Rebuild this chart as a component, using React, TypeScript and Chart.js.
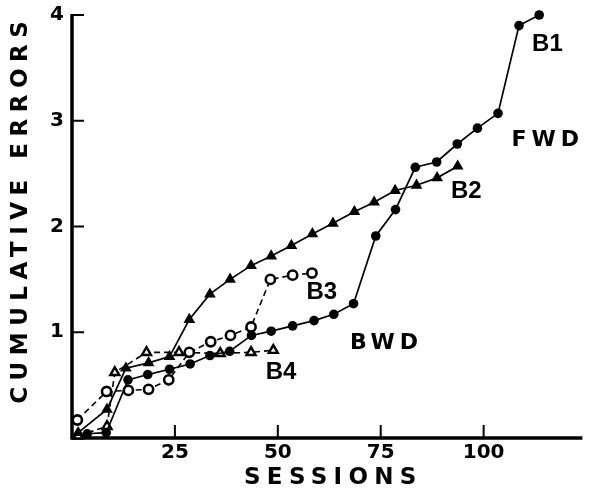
import React, { useEffect, useRef } from 'react';
import { Chart, registerables } from 'chart.js';

Chart.register(...registerables);

// ---- data ----
const b1Sessions = [3.7, 8.3, 13.6, 18.4, 23.7, 28.7, 33.5, 38.3, 43.6, 48.4, 53.6, 58.8, 63.6, 68.4, 73.8, 78.6, 83.4, 88.6, 93.6, 98.5, 103.5, 108.6, 113.5];
const b1Errors = [0.04, 0.05, 0.55, 0.6, 0.65, 0.7, 0.78, 0.82, 0.97, 1.01, 1.06, 1.11, 1.17, 1.27, 1.91, 2.16, 2.56, 2.61, 2.78, 2.93, 3.07, 3.9, 4.0];

const b2Sessions = [1.5, 8.5, 13.1, 18.6, 23.7, 28.5, 33.5, 38.4, 43.5, 48.4, 53.3, 58.4, 63.4, 68.6, 73.4, 78.5, 83.7, 88.7, 93.7];
const b2Errors = [0.05, 0.27, 0.66, 0.71, 0.77, 1.12, 1.36, 1.5, 1.63, 1.72, 1.82, 1.93, 2.03, 2.14, 2.23, 2.34, 2.39, 2.46, 2.57];

const b3Sessions = [1.3, 8.4, 13.7, 18.6, 23.5, 28.5, 33.7, 38.5, 43.5, 48.2, 53.6, 58.3];
const b3Errors = [0.17, 0.44, 0.45, 0.46, 0.55, 0.81, 0.91, 0.97, 1.05, 1.5, 1.54, 1.56];

const b4Sessions = [1.5, 8.5, 10.4, 18.1, 26.0, 36.0, 43.5, 48.9];
const b4Errors = [0.02, 0.11, 0.62, 0.81, 0.81, 0.8, 0.81, 0.83];

const xTicks = [25, 50, 75, 100];
const yTicks = [1, 2, 3, 4];
const xTitle = 'SESSIONS';
const yTitle = 'CUMULATIVE ERRORS';

// series labels: [text, session, errors]
const seriesLabels: [string, number, number][] = [
  ['B1', 115.5, 3.72],
  ['FWD', 115, 2.82],
  ['B2', 95.8, 2.33],
  ['B3', 60.7, 1.38],
  ['BWD', 75.8, 0.9],
  ['B4', 50.8, 0.62],
];

const X_MIN = 0;
const X_MAX = 124;
const Y_MIN = 0;
const Y_MAX = 4;

const HEAVY = '"DejaVu Sans", "Liberation Sans", sans-serif';
const LABEL = '"Liberation Sans", Arial, sans-serif';

function pts(xs: number[], ys: number[]) {
  return xs.map((x, i) => ({ x, y: ys[i] }));
}

function spacedText(ctx: CanvasRenderingContext2D, text: string, x: number, y: number, ls: number) {
  (ctx as any).letterSpacing = ls + 'px';
  ctx.textAlign = 'center';
  ctx.fillText(text, x + ls / 2, y);
  (ctx as any).letterSpacing = '0px';
}

const decorPlugin = {
  id: 'decor',
  beforeDatasetsDraw(chart: any) {
    const { ctx, scales } = chart;
    const xs = scales.x;
    const ys = scales.y;
    const x0 = xs.getPixelForValue(X_MIN);
    const y0 = ys.getPixelForValue(Y_MIN);
    const xEnd = xs.getPixelForValue(X_MAX);
    const yTop = ys.getPixelForValue(Y_MAX);
    ctx.save();
    ctx.strokeStyle = '#000';
    ctx.lineWidth = 3.5;
    ctx.beginPath();
    ctx.moveTo(x0, yTop - 1);
    ctx.lineTo(x0, y0);
    ctx.lineTo(xEnd, y0);
    ctx.stroke();
    ctx.lineWidth = 2;
    xTicks.forEach((t) => {
      const px = xs.getPixelForValue(t);
      ctx.beginPath();
      ctx.moveTo(px, y0);
      ctx.lineTo(px, y0 - 13);
      ctx.stroke();
    });
    yTicks.forEach((t) => {
      const py = ys.getPixelForValue(t);
      ctx.beginPath();
      ctx.moveTo(x0, py);
      ctx.lineTo(x0 + 12, py);
      ctx.stroke();
    });
    ctx.restore();
  },
  afterDraw(chart: any) {
    const { ctx, scales } = chart;
    const xs = scales.x;
    const ys = scales.y;
    const x0 = xs.getPixelForValue(X_MIN);
    const y0 = ys.getPixelForValue(Y_MIN);
    ctx.save();
    ctx.fillStyle = '#000';
    ctx.font = `bold 20px ${HEAVY}`;
    ctx.textBaseline = 'middle';
    ctx.textAlign = 'center';
    xTicks.forEach((t) => {
      ctx.fillText(String(t), xs.getPixelForValue(t), y0 + 15);
    });
    ctx.textAlign = 'right';
    yTicks.forEach((t) => {
      ctx.fillText(String(t), x0 - 8, ys.getPixelForValue(t));
    });
    // axis titles
    ctx.font = `bold 23px ${HEAVY}`;
    spacedText(ctx, xTitle, (x0 + xs.getPixelForValue(X_MAX)) / 2 + 3, y0 + 40, 6.3);
    ctx.save();
    ctx.translate(21, 212.5);
    ctx.rotate(-Math.PI / 2);
    spacedText(ctx, yTitle, 0, 0, 6.5);
    ctx.restore();
    // series labels
    seriesLabels.forEach(([txt, sx, sy]) => {
      const long = txt.length > 2;
      ctx.font = long ? `bold 22px ${HEAVY}` : `bold 24px ${LABEL}`;
      spacedText(ctx, txt, xs.getPixelForValue(sx), ys.getPixelForValue(sy), long ? 5 : 0);
    });
    ctx.restore();
  },
};

export default function App() {
  const ref = useRef<HTMLCanvasElement>(null);
  useEffect(() => {
    if (!ref.current) return;
    const chart = new Chart(ref.current, {
      type: 'line',
      data: {
        datasets: [
          {
            label: 'B1',
            data: pts(b1Sessions, b1Errors),
            borderColor: '#000',
            backgroundColor: '#000',
            borderWidth: 1.7,
            pointStyle: 'circle',
            pointRadius: 4.8,
            pointBorderWidth: 0,
            pointBackgroundColor: '#000',
            clip: false as any,
          },
          {
            label: 'B2',
            data: pts(b2Sessions, b2Errors),
            borderColor: '#000',
            backgroundColor: '#000',
            borderWidth: 1.7,
            pointStyle: 'triangle',
            pointRadius: 6.8,
            pointBorderWidth: 0,
            pointBackgroundColor: '#000',
            clip: false as any,
          },
          {
            label: 'B3',
            data: pts(b3Sessions, b3Errors),
            borderColor: '#000',
            backgroundColor: '#fff',
            borderWidth: 1.6,
            borderDash: [6, 4],
            pointStyle: 'circle',
            pointRadius: 4.6,
            pointBorderWidth: 2.6,
            pointBackgroundColor: '#fff',
            pointBorderColor: '#000',
            clip: false as any,
          },
          {
            label: 'B4',
            data: pts(b4Sessions, b4Errors),
            borderColor: '#000',
            backgroundColor: '#fff',
            borderWidth: 1.6,
            borderDash: [6, 4],
            pointStyle: 'triangle',
            pointRadius: 5.2,
            pointBorderWidth: 2.4,
            pointBackgroundColor: '#fff',
            pointBorderColor: '#000',
            clip: false as any,
          },
        ],
      },
      options: {
        responsive: false,
        animation: false,
        events: [],
        layout: { padding: { left: 72, right: 2, top: 15, bottom: 58 } },
        plugins: { legend: { display: false }, tooltip: { enabled: false } },
        scales: {
          x: { type: 'linear', min: X_MIN, max: X_MAX, display: false },
          y: { type: 'linear', min: Y_MIN, max: Y_MAX, display: false },
        },
      },
      plugins: [decorPlugin],
    });
    return () => chart.destroy();
  }, []);
  return (
    <div style={{ position: 'absolute', left: 0, top: 0, width: 590, height: 496, background: '#fff' }}>
      <canvas ref={ref} width={590} height={496} style={{ display: 'block', width: 590, height: 496 }} />
    </div>
  );
}
